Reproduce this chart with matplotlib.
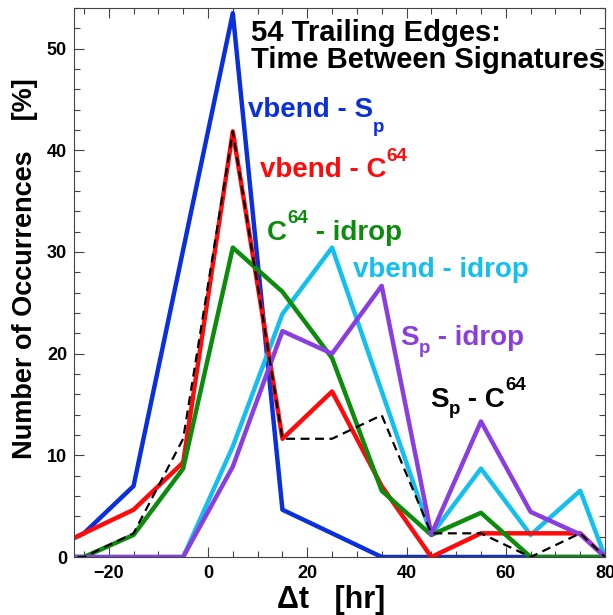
import matplotlib
matplotlib.use("Agg")
import matplotlib.pyplot as plt
from matplotlib.ticker import MultipleLocator

# bin centres [hr] and occurrence percentages
dt = [-35, -25, -15, -5, 5, 15, 25, 35, 45, 55, 65, 75, 80]
vbend_sp = [0, 2.33, 6.98, 30.23, 53.49, 4.65, 2.33, 0, 0, 0, 0, 0, 0]
vbend_c64 = [0, 2.33, 4.65, 9.30, 41.86, 11.63, 16.28, 6.98, 0, 2.33, 2.33, 2.33, 0]
c64_idrop = [0, 0, 2.17, 8.70, 30.43, 26.09, 19.57, 6.52, 2.17, 4.35, 0, 0, 0]
vbend_idrop = [0, 0, 0, 0, 10.87, 23.91, 30.43, 16.3, 2.17, 8.70, 2.17, 6.52, 0]
sp_idrop = [0, 0, 0, 0, 8.89, 22.22, 20.0, 26.67, 2.22, 13.33, 4.44, 2.22, 0]
sp_c64 = [0, 0, 2.33, 11.63, 41.86, 11.63, 11.63, 13.95, 2.33, 2.33, 0, 2.33, 0]

blue = "#0a2fdc"
red = "#ff0a0a"
green = "#0c8c0c"
cyan = "#12bfee"
purple = "#8a3ee2"

plt.rcParams["font.family"] = ["Liberation Sans", "DejaVu Sans"]
plt.rcParams["font.weight"] = "bold"

fig = plt.figure(figsize=(6.13, 6.15), dpi=100)
ax = fig.add_axes([0.1207, 0.0943, 0.8663, 0.8927])

lw = 3.2
ax.plot(dt, vbend_sp, color=blue, lw=lw)
ax.plot(dt, vbend_idrop, color=cyan, lw=lw)
ax.plot(dt, vbend_c64, color=red, lw=lw)
ax.plot(dt, c64_idrop, color=green, lw=lw)
ax.plot(dt, sp_idrop, color=purple, lw=lw)
ax.plot(dt, sp_c64, color="black", lw=1.6, ls=(0, (4, 2.5)))

ax.set_xlim(-27, 80)
ax.set_ylim(0, 54)
ax.xaxis.set_major_locator(MultipleLocator(20))
ax.xaxis.set_minor_locator(MultipleLocator(5))
ax.yaxis.set_major_locator(MultipleLocator(10))
ax.yaxis.set_minor_locator(MultipleLocator(2))
ax.tick_params(which="both", direction="in", top=True, right=True,
               labelsize=13, width=0.8, color="#444444")
ax.tick_params(which="major", length=7)
ax.tick_params(axis="x", which="major", pad=6)
ax.tick_params(axis="y", which="major", pad=5)
ax.tick_params(which="minor", length=4)
for lab in ax.get_xticklabels() + ax.get_yticklabels():
    lab.set_fontweight("bold")
for s in ax.spines.values():
    s.set_color("#444444")
    s.set_linewidth(0.8)

fig.text(0.54, 0.024, "\u0394t   [hr]", fontsize=22, fontweight="bold",
         ha="center", va="center")
fig.text(0.040, 0.563, "Number of Occurrences    [%]", fontsize=19.5,
         fontweight="bold", rotation=90, ha="center", va="center")

ax.text(8.7, 50.8, "54 Trailing Edges:", fontsize=21, fontweight="bold")
ax.text(8.7, 48.1, "Time Between Signatures", fontsize=21, fontweight="bold")

fig.canvas.draw()
renderer = fig.canvas.get_renderer()


def label(x, y, parts, color):
    # parts: (text, fontsize, vertical offset in points); pieces laid left to right
    cur = 0.0
    for s, size, dy in parts:
        t = ax.annotate(s, (x, y), xytext=(cur, dy), textcoords="offset points",
                        color=color, fontsize=size, fontweight="bold",
                        ha="left", va="baseline")
        cur += t.get_window_extent(renderer).width * 72.0 / fig.dpi


fs, ss = 20, 13.5
label(8.06, 43.26, [("vbend - S", fs, 0), ("p", ss, -11)], blue)
label(10.48, 37.36, [("vbend - C", fs, 0), ("64", ss, 12)], red)
label(11.9, 31.17, [("C", fs, 0), ("64", ss, 12), (" - idrop", fs, 0)], green)
label(29.2, 27.5, [("vbend - idrop", fs, 0)], cyan)
label(38.7, 20.85, [("S", fs, 0), ("p", ss, -6), (" - idrop", fs, 0)], purple)
label(44.76, 14.75, [("S", fs, 0), ("p", ss, -5), (" - C", fs, 0), ("64", ss, 12)], "black")

fig.savefig("out.png", dpi=100)
